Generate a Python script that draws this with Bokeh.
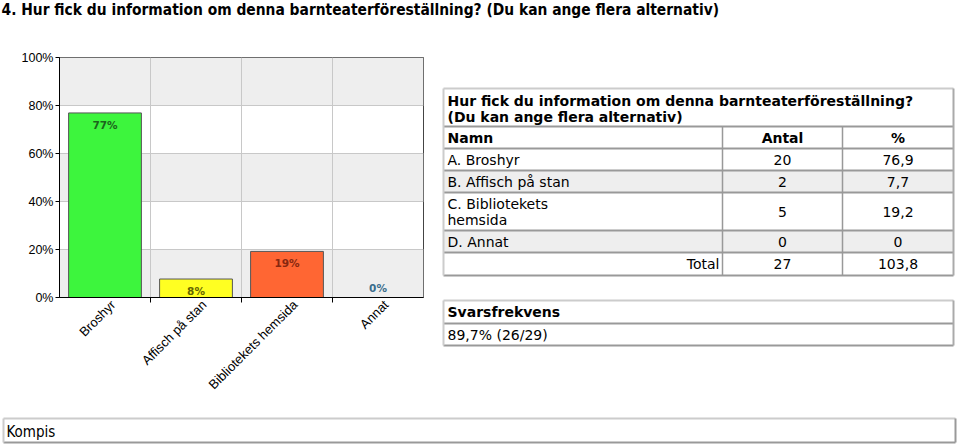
import math
from bokeh.plotting import figure
from bokeh.layouts import column, row
from bokeh.models import Range1d, FixedTicker, PrintfTickFormatter, ColumnDataSource, BoxAnnotation
from bokeh.core.properties import value
from bokeh.embed import file_html
from bokeh.resources import INLINE

# ---------------- data ----------------
page_title = "4. Hur fick du information om denna barnteaterföreställning? (Du kan ange flera alternativ)"
question_lines = ["Hur fick du information om denna barnteaterföreställning?",
                  "(Du kan ange flera alternativ)"]
categories = ["Broshyr", "Affisch på stan", "Bibliotekets hemsida", "Annat"]
table_names = [["A. Broshyr"], ["B. Affisch på stan"], ["C. Bibliotekets", "hemsida"], ["D. Annat"]]
counts = [20, 2, 5, 0]
percents = [76.9, 7.7, 19.2, 0.0]
total_count = 27
total_percent = 103.8
answered = 26
invited = 29
response_rate = 89.7
header = ["Namn", "Antal", "%"]
y_ticks = [0, 20, 40, 60, 80, 100]
footer_text = "Kompis"

bar_colors = ["#3df53d", "#ffff22", "#ff6633", "#3399cc"]
label_colors = ["#1c641c", "#646400", "#862810", "#3a6d8c"]


def sv(v):
    return "0" if v == 0 else f"{v:.1f}".replace(".", ",")


# ---------------- title strip ----------------
t = figure(width=960, height=40, x_range=Range1d(0, 960), y_range=Range1d(40, 0),
           x_axis_type=None, y_axis_type=None, toolbar_location=None,
           output_backend="svg", min_border=0)
t.outline_line_color = None
t.grid.visible = False
t.text(x=[1], y=[9], text=[page_title], text_font=value("DejaVu Sans Condensed"),
       text_font_size="15.4px", text_font_style="bold", text_baseline="middle",
       text_color="#000000")

# ---------------- bar chart ----------------
centers = [i + 0.5 for i in range(len(categories))]
bar_labels = [f"{round(v)}%" for v in percents]
label_off = [12 if v > 0 else -10 for v in percents]
src = ColumnDataSource(dict(x=centers, top=percents, color=bar_colors,
                            lab=bar_labels, lcol=label_colors, off=label_off))

c = figure(width=440, height=370, x_range=Range1d(0, len(categories)), y_range=Range1d(0, 100),
           toolbar_location=None, output_backend="svg",
           min_border_left=59, min_border_right=17, min_border_top=17, min_border_bottom=113)
c.outline_line_color = "#444444"
c.outline_line_width = 1
c.background_fill_color = "#ffffff"

for i in range(0, len(y_ticks) - 1, 2):
    c.add_layout(BoxAnnotation(bottom=y_ticks[i], top=y_ticks[i + 1], fill_color="#eeeeee",
                               fill_alpha=1.0, line_color=None, level="image"))

c.vbar(x="x", top="top", width=0.8, fill_color="color", line_color="#555555",
       line_width=1, source=src)
c.text(x="x", y="top", text="lab", text_color="lcol", y_offset="off",
       text_align="center", text_baseline="middle", text_font=value("DejaVu Sans"),
       text_font_size="10.5px", text_font_style="bold", source=src)

c.yaxis.ticker = FixedTicker(ticks=y_ticks)
c.yaxis.formatter = PrintfTickFormatter(format="%d%%")
c.yaxis.major_label_text_font = "Liberation Sans"
c.yaxis.major_label_text_font_size = "12.5px"
c.yaxis.major_label_text_color = "#000000"
c.yaxis.major_tick_out = 4
c.yaxis.major_tick_in = 0
c.yaxis.minor_tick_line_color = None
c.yaxis.axis_line_color = "#000000"
c.yaxis.major_label_standoff = 2

# category labels sit slightly right of the category centre, as in the original
label_pos = [cx + 0.09 for cx in centers]
c.xaxis.ticker = FixedTicker(ticks=label_pos, minor_ticks=[1, 2, 3])
c.xaxis.major_label_overrides = {lp: name for lp, name in zip(label_pos, categories)}
c.xaxis.major_tick_line_color = None
c.xaxis.major_tick_out = 0
c.xaxis.minor_tick_out = 5
c.xaxis.minor_tick_in = 0
c.xaxis.minor_tick_line_color = "#000000"
c.xaxis.axis_line_color = "#000000"
c.xaxis.major_label_orientation = math.pi / 4
c.xaxis.major_label_text_font = "Liberation Sans"
c.xaxis.major_label_text_font_size = "13px"
c.xaxis.major_label_text_color = "#000000"
c.xaxis.major_label_standoff = 0

c.xgrid.ticker = FixedTicker(ticks=[1, 2, 3])
c.xgrid.grid_line_color = "#c8c8c8"
c.ygrid.ticker = FixedTicker(ticks=y_ticks)
c.ygrid.grid_line_color = "#c8c8c8"

# ---------------- tables ----------------
tb = figure(width=520, height=370, x_range=Range1d(440, 960), y_range=Range1d(410, 40),
            x_axis_type=None, y_axis_type=None, toolbar_location=None,
            output_backend="svg", min_border=0)
tb.outline_line_color = None
tb.grid.visible = False

X0, X1, X2, X3 = 443, 722, 842, 953
row_edges = [88, 126, 148, 170, 192, 230, 252, 275]
FONT = value("DejaVu Sans")
FS = "14px"

# shaded rows (B and D)
tb.quad(left=[X0, X0], right=[X3, X3], top=[row_edges[3], row_edges[5]],
        bottom=[row_edges[4], row_edges[6]], fill_color="#eeeeee", line_color=None)

# borders
tb.segment(x0=[X0] * 7, x1=[X3] * 7, y0=row_edges[1:], y1=row_edges[1:],
           line_color="#999999", line_width=2)
tb.segment(x0=[X0], x1=[X3], y0=[row_edges[0]], y1=[row_edges[0]], line_color="#cccccc", line_width=2)
tb.segment(x0=[X0, X3], x1=[X0, X3], y0=[row_edges[0]] * 2, y1=[row_edges[-1]] * 2,
           line_color=["#cccccc", "#aaaaaa"], line_width=2)
tb.segment(x0=[X1, X2], x1=[X1, X2], y0=[row_edges[1]] * 2, y1=[row_edges[-1]] * 2,
           line_color="#999999", line_width=1.5)

# title lines
tb.text(x=[447, 447], y=[100, 116], text=question_lines, text_font=FONT, text_font_size=FS,
        text_font_style="bold", text_baseline="middle", text_color="#000000")
# header
hy = (row_edges[1] + row_edges[2]) / 2
tb.text(x=[447], y=[hy], text=[header[0]], text_font=FONT, text_font_size=FS,
        text_font_style="bold", text_baseline="middle")
tb.text(x=[(X1 + X2) / 2, (X2 + X3) / 2], y=[hy, hy], text=header[1:], text_font=FONT,
        text_font_size=FS, text_font_style="bold", text_baseline="middle", text_align="center")

# data rows
for i, (names, n, pct) in enumerate(zip(table_names, counts, percents)):
    top, bot = row_edges[2 + i], row_edges[3 + i]
    mid = (top + bot) / 2
    lh = 16
    ys = [mid - lh / 2 * (len(names) - 1) + k * lh for k in range(len(names))]
    tb.text(x=[447] * len(names), y=ys, text=names, text_font=FONT, text_font_size=FS,
            text_baseline="middle", text_color="#000000")
    tb.text(x=[(X1 + X2) / 2, (X2 + X3) / 2], y=[mid, mid], text=[str(n), sv(pct)],
            text_font=FONT, text_font_size=FS, text_baseline="middle", text_align="center")

# total row
ty = (row_edges[6] + row_edges[7]) / 2
tb.text(x=[X1 - 3], y=[ty], text=["Total"], text_font=FONT, text_font_size=FS,
        text_baseline="middle", text_align="right")
tb.text(x=[(X1 + X2) / 2, (X2 + X3) / 2], y=[ty, ty], text=[str(total_count), sv(total_percent)],
        text_font=FONT, text_font_size=FS, text_baseline="middle", text_align="center")

# response rate table
r_edges = [300, 323, 345]
tb.segment(x0=[X0] * 2, x1=[X3] * 2, y0=r_edges[1:], y1=r_edges[1:], line_color="#999999", line_width=2)
tb.segment(x0=[X0], x1=[X3], y0=[r_edges[0]], y1=[r_edges[0]], line_color="#cccccc", line_width=2)
tb.segment(x0=[X0, X3], x1=[X0, X3], y0=[r_edges[0]] * 2, y1=[r_edges[-1]] * 2,
           line_color=["#cccccc", "#aaaaaa"], line_width=2)
tb.text(x=[447], y=[(r_edges[0] + r_edges[1]) / 2], text=["Svarsfrekvens"], text_font=FONT,
        text_font_size=FS, text_font_style="bold", text_baseline="middle")
tb.text(x=[447], y=[(r_edges[1] + r_edges[2]) / 2],
        text=[f"{sv(response_rate)}% ({answered}/{invited})"], text_font=FONT,
        text_font_size=FS, text_baseline="middle")

# ---------------- footer ----------------
f = figure(width=960, height=35, x_range=Range1d(0, 960), y_range=Range1d(445, 410),
           x_axis_type=None, y_axis_type=None, toolbar_location=None,
           output_backend="svg", min_border=0)
f.outline_line_color = None
f.grid.visible = False
f.segment(x0=[3], x1=[955], y0=[418], y1=[418], line_color="#cccccc", line_width=2)
f.segment(x0=[3], x1=[955], y0=[442], y1=[442], line_color="#999999", line_width=2)
f.segment(x0=[3, 955], x1=[3, 955], y0=[418, 418], y1=[442, 442],
          line_color=["#cccccc", "#999999"], line_width=2)
f.text(x=[6], y=[431], text=[footer_text], text_font=value("DejaVu Sans Condensed"),
       text_font_size="15px", text_baseline="middle", text_color="#000000")

layout = column(t, row(c, column(tb)), f)
open("out.html", "w").write(file_html(layout, INLINE))
